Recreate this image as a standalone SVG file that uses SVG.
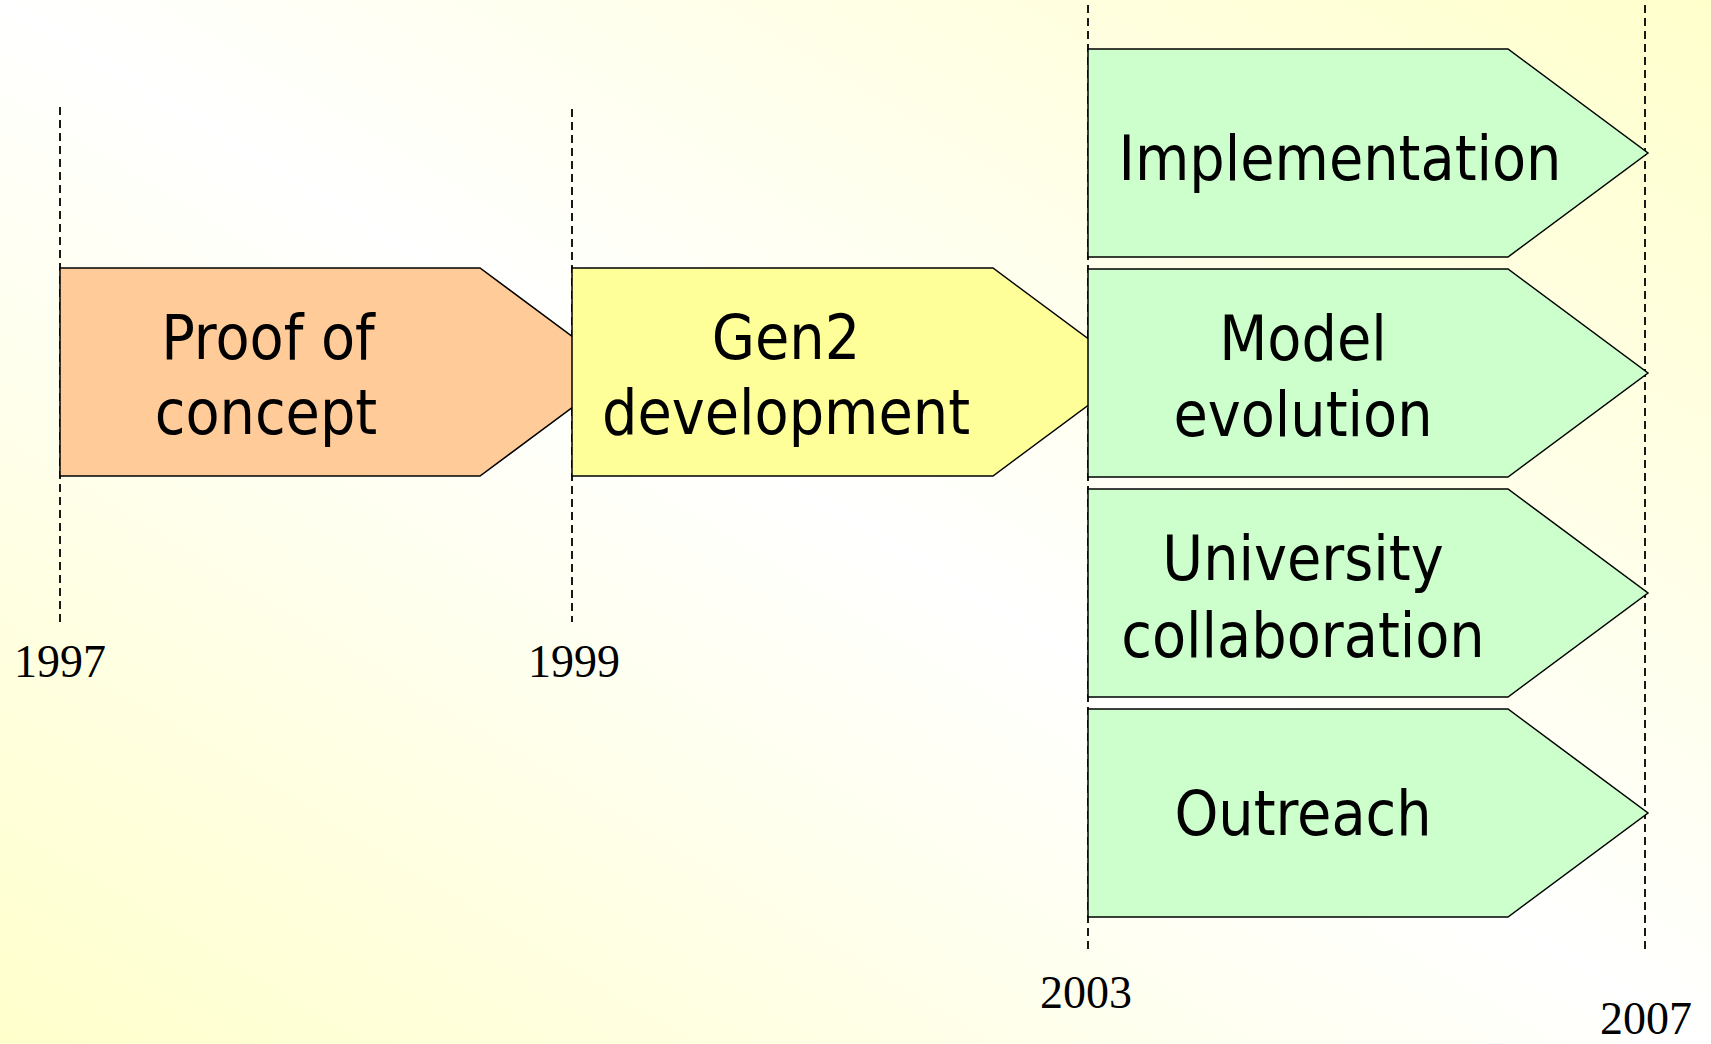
<svg xmlns="http://www.w3.org/2000/svg" width="1711" height="1044" viewBox="0 0 1711 1044">
  <defs>
    <linearGradient id="bg" x1="0" y1="1" x2="1" y2="0">
      <stop offset="0" stop-color="#FFFFCC"/>
      <stop offset="0.5" stop-color="#FFFFFF"/>
      <stop offset="1" stop-color="#FFFFCC"/>
    </linearGradient>
    <style>
      .shape { stroke: #000; stroke-width: 1.5; stroke-linejoin: miter; }
      .orange { fill: #FFCC99; }
      .yellow { fill: #FFFF99; }
      .green { fill: #CCFFCC; }
      .label { font-family: "DejaVu Sans Condensed", "DejaVu Sans", sans-serif; font-stretch: condensed; font-size: 62px; fill: #000; text-anchor: middle; }
      .year { font-family: "Liberation Serif", "Times New Roman", serif; font-size: 46px; fill: #000; text-anchor: middle; }
      .marker { stroke: #000; stroke-width: 1.8; stroke-dasharray: 8 5; fill: none; }
    </style>
  </defs>
  <rect x="0" y="0" width="1711" height="1044" fill="url(#bg)"/>

  <g id="timeline-markers">
    <line class="marker" x1="60" y1="107" x2="60" y2="622"/>
    <line class="marker" x1="572" y1="109" x2="572" y2="622"/>
    <line class="marker" x1="1088" y1="5" x2="1088" y2="951"/>
    <line class="marker" x1="1645" y1="5" x2="1645" y2="951"/>
  </g>

  <g id="node-proof">
    <polygon class="shape orange" points="60,268 480,268 620,372 480,476 60,476"/>
    <text class="label" x="268" y="359">Proof of</text>
    <text class="label" x="266" y="434">concept</text>
  </g>
  <g id="node-gen2">
    <polygon class="shape yellow" points="572,268 993,268 1133,372 993,476 572,476"/>
    <text class="label" x="786" y="359">Gen2</text>
    <text class="label" x="786" y="434">development</text>
  </g>
  <g id="node-implementation">
    <polygon class="shape green" points="1088,49 1508,49 1648,153 1508,257 1088,257"/>
    <text class="label" x="1340" y="180">Implementation</text>
  </g>
  <g id="node-model">
    <polygon class="shape green" points="1088,269 1508,269 1648,373 1508,477 1088,477"/>
    <text class="label" x="1303" y="360">Model</text>
    <text class="label" x="1303" y="436">evolution</text>
  </g>
  <g id="node-university">
    <polygon class="shape green" points="1088,489 1508,489 1648,593 1508,697 1088,697"/>
    <text class="label" x="1303" y="580">University</text>
    <text class="label" x="1303" y="657">collaboration</text>
  </g>
  <g id="node-outreach">
    <polygon class="shape green" points="1088,709 1508,709 1648,813 1508,917 1088,917"/>
    <text class="label" x="1303" y="835">Outreach</text>
  </g>

  <g id="year-labels">
    <text class="year" x="60" y="677">1997</text>
    <text class="year" x="574" y="677">1999</text>
    <text class="year" x="1086" y="1008">2003</text>
    <text class="year" x="1646" y="1034">2007</text>
  </g>
</svg>
